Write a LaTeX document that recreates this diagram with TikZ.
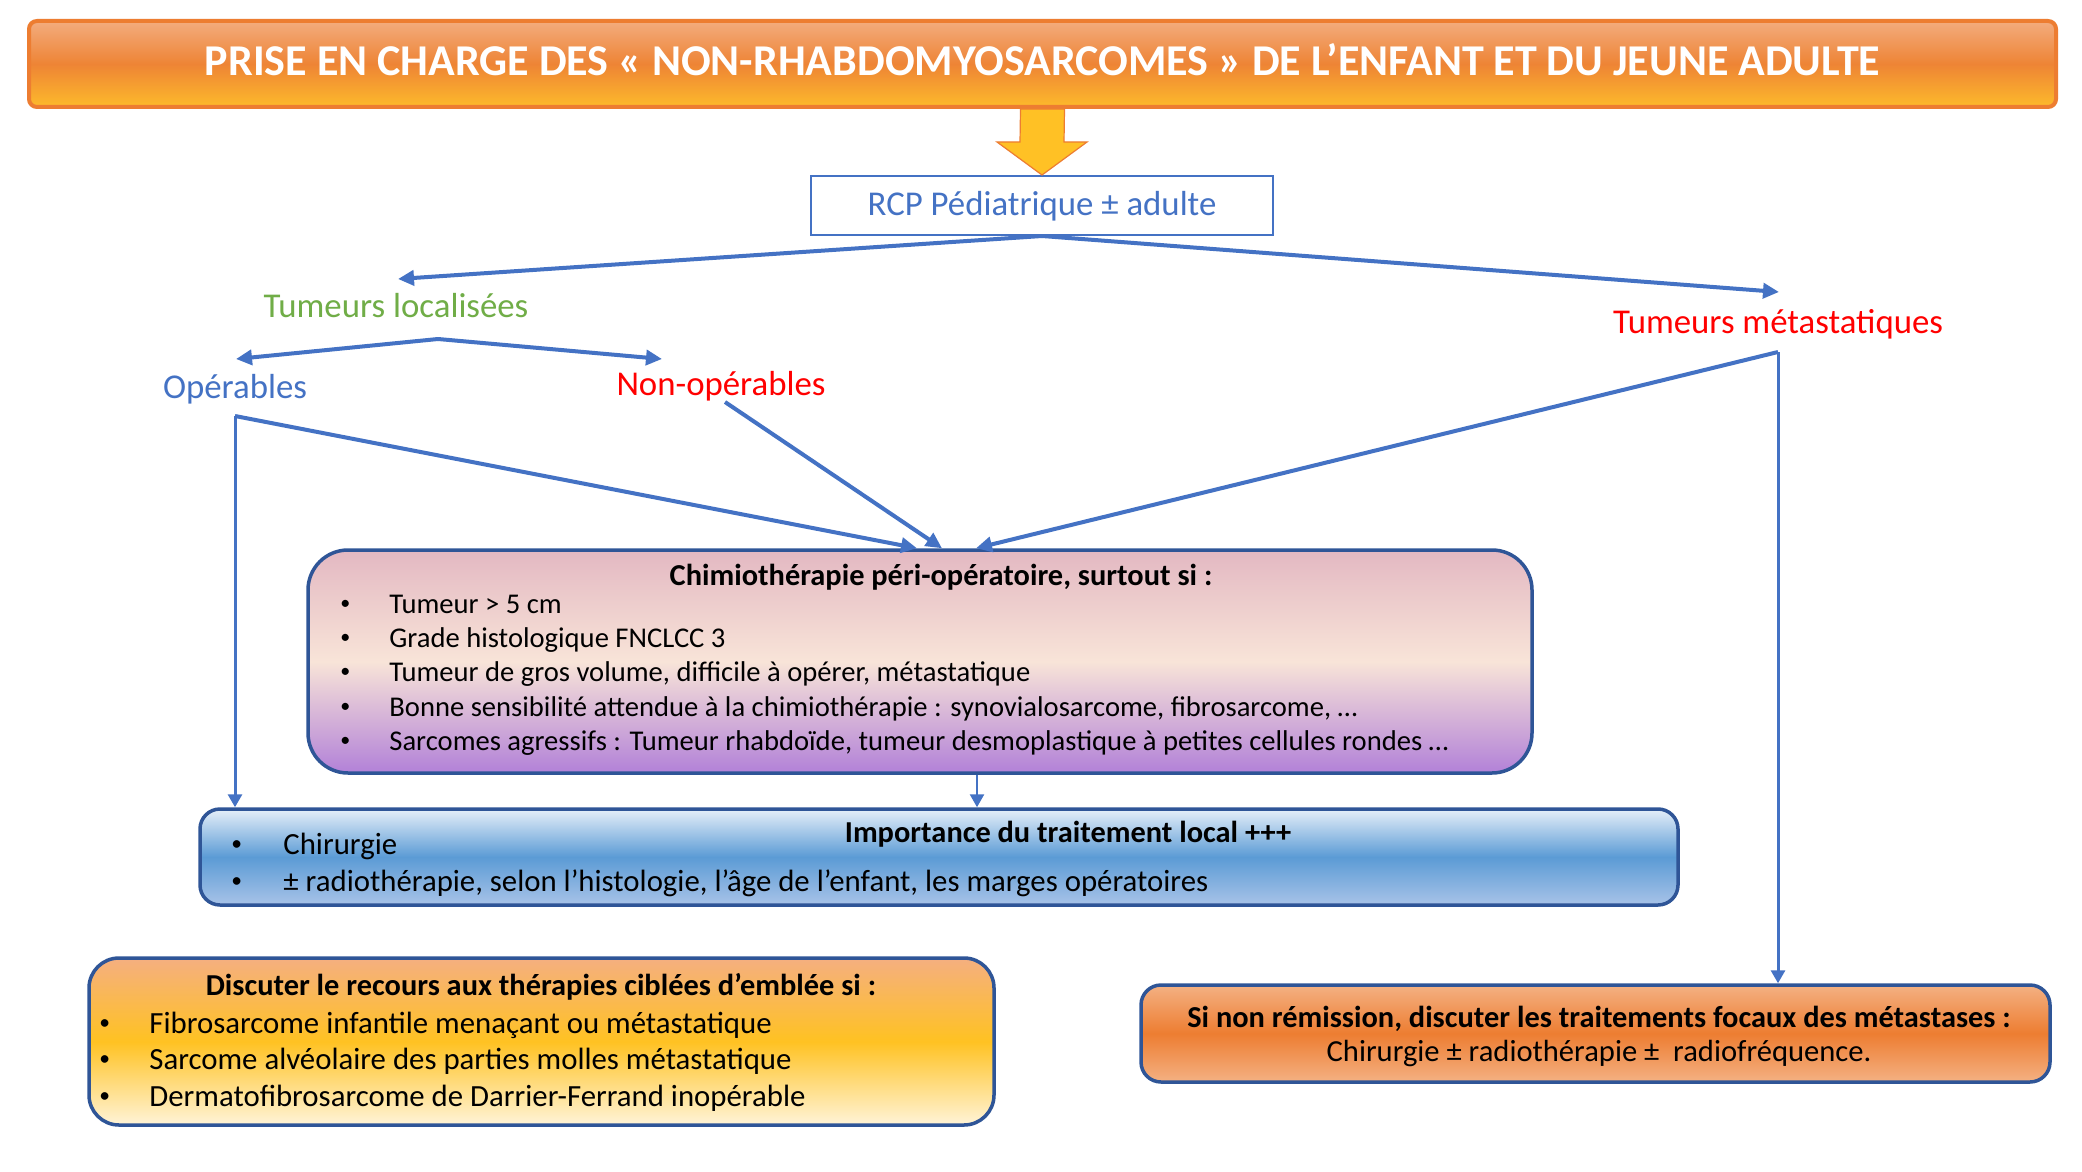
\documentclass[tikz,border=0pt]{standalone}
\usepackage{fontspec}
\setmainfont{Carlito}
\usetikzlibrary{arrows.meta,calc}
\definecolor{cblue}{HTML}{4472C4}
\definecolor{dblue}{HTML}{2F5597}
\definecolor{cgreen}{HTML}{70AD47}
\definecolor{cred}{HTML}{FF0000}
\definecolor{corange}{HTML}{ED7D31}
\definecolor{lorange}{HTML}{F4B183}
\definecolor{tTop}{HTML}{F3AC7E}
\definecolor{tMid}{HTML}{EE8435}
\definecolor{tBot}{HTML}{FDBA2B}
\definecolor{gold}{HTML}{FFC125}
\definecolor{chTop}{HTML}{E3B8C2}
\definecolor{chMid}{HTML}{F8E4D8}
\definecolor{chBot}{HTML}{B281D8}
\definecolor{blTop}{HTML}{E6EFF9}
\definecolor{blMid}{HTML}{5B9BD5}
\definecolor{blBot}{HTML}{A8C3E8}
\definecolor{dsTop}{HTML}{F5AF80}
\definecolor{dsMid}{HTML}{FFC222}
\definecolor{dsBot}{HTML}{FFF4D8}
\newcommand{\blt}[1]{\makebox[#1][l]{\hspace*{0.1em}\raisebox{0.12em}{\scalebox{0.7}{•}}}}
\begin{document}
\begin{tikzpicture}[x=0.5pt,y=-0.5pt,
  box/.style={draw=dblue, line width=1.75pt, inner sep=0pt},
  conn/.style={draw=cblue, line width=2pt, -{Triangle[length=8pt,width=7.5pt]}},
  thinconn/.style={draw=cblue, line width=1.5pt, -{Triangle[length=6.5pt,width=7pt]}},
  lab/.style={anchor=base, inner sep=0pt, font=\fontsize{17.4pt}{20pt}\selectfont},
  hd/.style={anchor=base, inner sep=0pt, font=\fontsize{15.2pt}{18pt}\selectfont\bfseries},
  itm/.style={anchor=base west, inner sep=0pt, font=\fontsize{15.4pt}{18pt}\selectfont},
  itc/.style={itm, font=\fontsize{14.3pt}{17pt}\selectfont},
]
\useasboundingbox (0,0) rectangle (2082,1172);
\fill[white] (0,0) rectangle (2082,1172);

% title
\node[draw=corange, line width=2pt, rounded corners=4pt, top color=tTop, bottom color=tBot, middle color=tMid,
      minimum width=1013.5pt, minimum height=43pt, inner sep=0pt] (title) at (1042.5,64) {};
\node[anchor=base, inner sep=0pt, text=white, font=\fontsize{22pt}{26pt}\selectfont\bfseries] (titletxt) at (1042.5,76)
  {PRISE EN CHARGE DES « NON-RHABDOMYOSARCOMES » DE L’ENFANT ET DU JEUNE ADULTE};

% RCP
\node[draw=cblue, line width=1pt, fill=white, minimum width=231pt, minimum height=29.5pt, inner sep=0pt] (rcp) at (1042,205.5) {};
\node[lab, text=cblue] (rcptxt) at (1042,215) {RCP Pédiatrique ± adulte};

% block arrow
\draw[draw=corange, fill=gold, line width=0.6pt, line join=miter]
  ($(title.south)+(-22,0)$) -- ($(title.south)+(22,0)$) -- ($(rcp.north)+(22,-33)$) -- ($(rcp.north)+(45,-33)$)
  -- (rcp.north) -- ($(rcp.north)+(-45,-33)$) -- ($(rcp.north)+(-22,-33)$) -- cycle;

% labels
\node[lab, text=cgreen] (loc) at (396,317) {Tumeurs localisées};
\node[lab, text=cblue] (op) at (235,398) {Opérables};
\node[lab, text=cred] (nonop) at (721,395) {Non-opérables};
\node[lab, text=cred] (met) at (1778,333) {Tumeurs métastatiques};

% boxes
\node[box, rounded corners=20pt, top color=chTop, bottom color=chBot, middle color=chMid,
      minimum width=612pt, minimum height=111.5pt] (chemo) at (920,661.5) {};
\node[box, rounded corners=10pt, top color=blTop, bottom color=blBot, middle color=blMid,
      minimum width=739pt, minimum height=48pt] (blue) at (939,857) {};
\node[box, rounded corners=15pt, top color=dsTop, bottom color=dsBot, middle color=dsMid,
      minimum width=452.5pt, minimum height=83.5pt] (disc) at (541.5,1041.5) {};
\node[box, rounded corners=10pt, top color=lorange, bottom color=lorange, middle color=corange,
      minimum width=454.5pt, minimum height=48.5pt] (rbox) at (1595.5,1033.5) {};

% chemo text
\node[hd] (ct) at (941,585) {Chimiothérapie péri-opératoire, surtout si :};
\node[itc] (c1) at (337,613) {\blt{26pt}Tumeur > 5 cm};
\node[itc] (c2) at (337,647) {\blt{26pt}Grade histologique FNCLCC 3};
\node[itc] (c3) at (337,681) {\blt{26pt}Tumeur de gros volume, difficile à opérer, métastatique};
\node[itc] (c4) at (337,716) {\blt{26pt}Bonne sensibilité attendue à la chimiothérapie : synovialosarcome, fibrosarcome, …};
\node[itc] (c5) at (337,750) {\blt{26pt}Sarcomes agressifs : Tumeur rhabdoïde, tumeur desmoplastique à petites cellules rondes …};

% blue text
\node[hd] (bt) at (1068,842) {Importance du traitement local +++};
\node[itm] (b1) at (228,854) {\blt{27.5pt}Chirurgie};
\node[itm] (b2) at (228,891) {\blt{27.5pt}± radiothérapie, selon l’histologie, l’âge de l’enfant, les marges opératoires};

% discuter text
\node[hd] (dt) at (541,995) {Discuter le recours aux thérapies ciblées d’emblée si :};
\node[itm] (d1) at (96,1033) {\blt{26.5pt}Fibrosarcome infantile menaçant ou métastatique};
\node[itm] (d2) at (96,1069) {\blt{26.5pt}Sarcome alvéolaire des parties molles métastatique};
\node[itm] (d3) at (96,1106) {\blt{26.5pt}Dermatofibrosarcome de Darrier-Ferrand inopérable};

% right box text
\node[hd] (rt) at (1599,1027) {Si non rémission, discuter les traitements focaux des métastases :};
\node[hd, font=\fontsize{15.3pt}{18pt}\selectfont] (r2) at (1599,1061) {Chirurgie ± radiothérapie ±\ \ radiofréquence.};

% connector points
\coordinate (loctip) at ($(loc.base)+(2,-38)$);
\coordinate (mettip) at ($(met.base)+(1,-41)$);
\coordinate (locj) at ($(loc.base)+(42,22)$);
\coordinate (optip) at ($(op.base)+(1,-39)$);
\coordinate (noptip) at ($(nonop.base)+(-59,-36)$);
\coordinate (opc) at ($(op.base)+(0,18)$);
\coordinate (nops) at ($(nonop.base)+(4,7)$);
\coordinate (metc) at ($(met.base)+(0,19)$);

\draw[conn] (rcp.south) -- (loctip);
\draw[conn] (rcp.south) -- (mettip);
\draw[conn] (locj) -- (optip);
\draw[conn] (locj) -- (noptip);
\draw[conn] (opc) -- ($(chemo.north)+(-3,0)$);
\draw[conn] (nops) -- ($(chemo.north)+(22,0)$);
\draw[conn] (metc) -- ($(chemo.north)+(56,0)$);
\draw[thinconn] (opc) -- (opc |- blue.north);
\draw[thinconn] (metc) -- (metc |- rbox.north);
\draw[thinconn, line width=1.25pt] ($(chemo.south)+(57,0)$) -- ($(blue.north)+(38,0)$);
\end{tikzpicture}
\end{document}
